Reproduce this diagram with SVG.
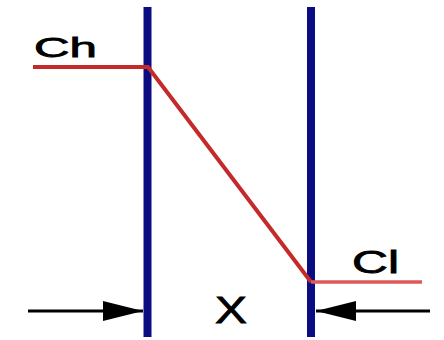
<svg xmlns="http://www.w3.org/2000/svg" width="444" height="340" viewBox="0 0 444 340">
  <style>
    .wall { stroke: #0c0c82; stroke-width: 8; fill: none; }
    .conc { stroke: #c42a2a; stroke-width: 4; fill: none; stroke-linecap: butt; }
    .arrow { stroke: #000; stroke-width: 3; fill: none; }
    .lbl { font-family: "Liberation Sans", Arial, sans-serif; fill: #000; stroke: #000; stroke-width: 0.8; }
  </style>
  <defs>
    <marker id="ah" viewBox="0 0 40 20" refX="40" refY="10" markerWidth="40" markerHeight="20" markerUnits="userSpaceOnUse" orient="auto">
      <path d="M0,0 L40,10 L0,20 Z" fill="#000"/>
    </marker>
  </defs>
  <g id="membrane">
    <line class="wall" x1="147.5" y1="7" x2="147.5" y2="337"/>
    <line class="wall" x1="311" y1="7" x2="311" y2="337"/>
  </g>
  <g id="profile">
    <polyline class="conc" points="33,67 148,67 311,282"/>
    <line x1="311" y1="282" x2="422" y2="282" style="stroke:#dc5a5a;stroke-width:3.5"/>
  </g>
  <g id="arrows">
    <line class="arrow" x1="28" y1="311" x2="143" y2="311" marker-end="url(#ah)"/>
    <line class="arrow" x1="430" y1="311" x2="316" y2="311" marker-end="url(#ah)"/>
  </g>
  <g id="labels">
    <text class="lbl" x="34" y="57" font-size="28" textLength="63" lengthAdjust="spacingAndGlyphs">Ch</text>
    <text class="lbl" x="352" y="273" font-size="31" textLength="47" lengthAdjust="spacingAndGlyphs">Cl</text>
    <text class="lbl" x="215" y="323" font-size="36" textLength="32" lengthAdjust="spacingAndGlyphs">X</text>
  </g>
</svg>
